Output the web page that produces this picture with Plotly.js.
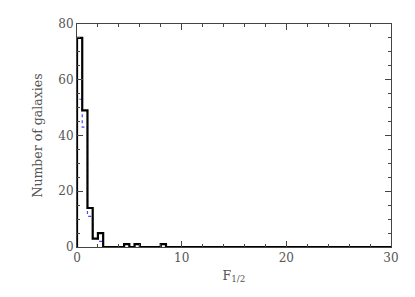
<!DOCTYPE html>
<html>
<head>
<meta charset="utf-8">
<script src="https://cdn.plot.ly/plotly-3.0.1.min.js"></script>
<style>html,body{margin:0;padding:0;background:#fff;}#chart{width:415px;height:297px;}</style>
</head>
<body>
<div id="chart"></div>
<script>
// Histogram of F_1/2, bin width 0.5 from 0 to 30
const binWidth = 0.5;
const binStart = 0;
const countsAll = [75, 49, 14, 3, 5, 0, 0, 0, 0, 1,
                   0, 1, 0, 0, 0, 0, 1, 0, 0, 0,
                   0, 0, 0, 0, 0, 0, 0, 0, 0, 0,
                   0, 0, 0, 0, 0, 0, 0, 0, 0, 0,
                   0, 0, 0, 0, 0, 0, 0, 0, 0, 0,
                   0, 0, 0, 0, 0, 0, 0, 0, 0, 0];
const countsSub = [53, 43, 11, 3, 2, 0, 0, 0, 0, 1,
                   0, 1, 0, 0, 0, 0, 1, 0, 0, 0,
                   0, 0, 0, 0, 0, 0, 0, 0, 0, 0,
                   0, 0, 0, 0, 0, 0, 0, 0, 0, 0,
                   0, 0, 0, 0, 0, 0, 0, 0, 0, 0,
                   0, 0, 0, 0, 0, 0, 0, 0, 0, 0];
const xTicks = [0, 10, 20, 30];
const yTicks = [0, 20, 40, 60, 80];

function steps(counts) {
  const x = [binStart], y = [0];
  counts.forEach((c, i) => { x.push(binStart + i * binWidth); y.push(c); });
  x.push(binStart + counts.length * binWidth); y.push(counts[counts.length - 1]);
  return {x, y};
}
const s1 = steps(countsSub), s2 = steps(countsAll);
const tickFont = {family: '"DejaVu Serif", serif', size: 12, color: '#555'};
const titleFont = {family: '"DejaVu Serif", serif', size: 12.5, color: '#555'};
const traces = [
  {x: s1.x, y: s1.y, type: 'scatter', mode: 'lines', line: {shape: 'hv', color: '#4848ff', width: 1.2, dash: 'dot'}, cliponaxis: false, hoverinfo: 'skip'},
  {x: s2.x, y: s2.y, type: 'scatter', mode: 'lines', line: {shape: 'hv', color: '#000', width: 2.2}, cliponaxis: false, hoverinfo: 'skip'}
];
const axisCommon = {showgrid: false, zeroline: false, showline: true, linecolor: '#444', linewidth: 1,
  mirror: 'ticks', ticks: 'inside', ticklen: 6, tickcolor: '#444', tickwidth: 1, tickfont: tickFont};
const layout = {
  width: 415, height: 297,
  margin: {l: 77, r: 24, t: 24, b: 50},
  paper_bgcolor: '#fff', plot_bgcolor: '#fff',
  showlegend: false,
  font: tickFont,
  xaxis: Object.assign({}, axisCommon, {range: [0, 30], tickmode: 'array', tickvals: xTicks, ticktext: xTicks.map(String),
    minor: {dtick: 2, ticks: 'inside', ticklen: 3, tickcolor: '#444'},
    title: {text: 'F<sub>1/2</sub>', font: titleFont, standoff: 6}}),
  yaxis: Object.assign({}, axisCommon, {range: [0, 80], tickmode: 'array', tickvals: yTicks, ticktext: yTicks.map(String),
    minor: {dtick: 5, ticks: 'inside', ticklen: 3, tickcolor: '#444'},
    title: {text: 'Number of galaxies', font: titleFont, standoff: 12}})
};
Plotly.newPlot('chart', traces, layout, {staticPlot: true, displayModeBar: false});
</script>
</body>
</html>
